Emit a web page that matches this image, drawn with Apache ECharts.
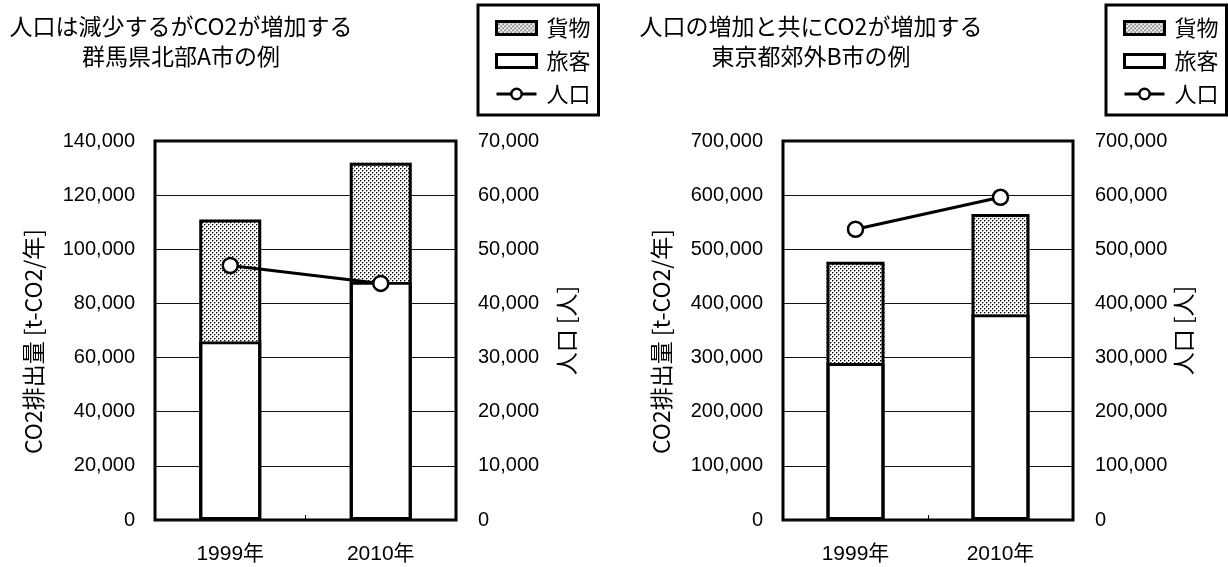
<!DOCTYPE html>
<html>
<head>
<meta charset="utf-8">
<script src="https://cdn.jsdelivr.net/npm/echarts@6/dist/echarts.min.js"></script>
<style>
  html, body { margin: 0; padding: 0; background: #fff; }
  #chart { width: 1228px; height: 567px; }
</style>
</head>
<body>
<div id="chart"></div>
<script>
// Categories and values for the two city panels
const years = ['1999年', '2010年'];

// City A (Gunma): CO2 [t-CO2/year] and population
const passengerA = [66000, 88000];
const freightA = [45000, 44000];
const populationA = [47000, 43700];

// City B (Tokyo suburbs)
const passengerB = [290000, 380000];
const freightB = [187000, 185000];
const populationB = [537000, 596000];

// Axis tick settings
const co2MaxA = 140000, co2StepA = 20000;
const popMaxA = 70000, popStepA = 10000;
const co2MaxB = 700000, co2StepB = 100000;
const popMaxB = 700000, popStepB = 100000;

const titleA = '人口は減少するがCO2が増加する\n群馬県北部A市の例';
const titleB = '人口の増加と共にCO2が増加する\n東京都郊外B市の例';

// Stippled fill for the freight segment
function stipple() {
  const c = document.createElement('canvas');
  c.width = 4; c.height = 4;
  const g = c.getContext('2d');
  g.fillStyle = '#fff';
  g.fillRect(0, 0, 4, 4);
  g.fillStyle = '#999';
  g.fillRect(1, 0, 1, 1);
  g.fillRect(0, 1, 1, 1);
  g.fillRect(3, 2, 1, 1);
  g.fillRect(2, 3, 1, 1);
  g.fillStyle = '#000';
  g.fillRect(0, 0, 1, 1);
  g.fillRect(2, 2, 1, 1);
  return { image: c, repeat: 'repeat' };
}
const dotFill = stipple();

const JP = '"Noto Sans CJK JP", sans-serif';
const NUM = '"Liberation Sans", "Noto Sans CJK JP", sans-serif';

const fmt = v => v.toLocaleString('en-US');
const sum = (a, b) => a.map((v, i) => v + b[i]);

function co2Axis(gridIndex, max, step) {
  return {
    type: 'value', gridIndex, min: 0, max, interval: step,
    name: 'CO2排出量 [t-CO2/年]', nameLocation: 'middle', nameRotate: 90, nameGap: 110,
    nameTextStyle: { fontFamily: JP, fontSize: 23, color: '#000', padding: [0, 22, 0, 0] },
    axisLine: { show: false }, axisTick: { show: false },
    axisLabel: { fontFamily: NUM, fontSize: 20, color: '#000', margin: 20, formatter: fmt },
    splitLine: { show: true, lineStyle: { color: '#111', width: 1 } }
  };
}
function popAxis(gridIndex, max, step) {
  return {
    type: 'value', gridIndex, position: 'right', min: 0, max, interval: step,
    name: '人口 [人]', nameLocation: 'middle', nameRotate: 90, nameGap: 99,
    nameTextStyle: { fontFamily: JP, fontSize: 23, color: '#000' },
    axisLine: { show: false }, axisTick: { show: false },
    axisLabel: { fontFamily: NUM, fontSize: 20, color: '#000', margin: 22, formatter: fmt },
    splitLine: { show: false }
  };
}
function catAxis(gridIndex) {
  return {
    type: 'category', gridIndex, data: years,
    axisLine: { show: false },
    axisTick: { show: true, inside: true, length: 5, lineStyle: { color: '#000', width: 1 } },
    axisLabel: { fontFamily: NUM, fontSize: 21, color: '#000', margin: 24 }
  };
}
// Stacked fills: passenger (outlined) at the bottom, freight on top
function barSeries(name, data, idx, fill, width, border) {
  return {
    name, type: 'bar', stack: 'co2-' + idx, data,
    xAxisIndex: idx, yAxisIndex: idx * 2, barWidth: width, barGap: '-100%',
    itemStyle: { color: fill, borderColor: '#000', borderWidth: border },
    z: 2
  };
}
// Outline of the whole stacked column (passenger + freight)
function totalOutline(data, idx, width) {
  return {
    name: '合計', type: 'bar', data,
    xAxisIndex: idx, yAxisIndex: idx * 2, barWidth: width, barGap: '-100%',
    itemStyle: { color: 'rgba(0,0,0,0)', borderColor: '#000', borderWidth: 3 },
    z: 3
  };
}
function lineSeries(data, idx) {
  return {
    name: '人口', type: 'line', data,
    xAxisIndex: idx, yAxisIndex: idx * 2 + 1,
    symbol: 'circle', symbolSize: 15, showSymbol: true,
    lineStyle: { color: '#000', width: 3 },
    itemStyle: { color: '#fff', borderColor: '#000', borderWidth: 2.5 },
    z: 5
  };
}
function legendAt(left) {
  return {
    left, top: 5, orient: 'vertical',
    backgroundColor: '#fff', borderColor: '#000', borderWidth: 3, borderRadius: 0,
    padding: [12, 8, 10, 17], itemGap: 11, itemWidth: 40, itemHeight: 13,
    textStyle: { fontFamily: JP, fontSize: 22, color: '#000', padding: [0, 0, 0, 5] },
    data: [
      { name: '貨物', icon: 'rect', itemStyle: { borderColor: '#000', borderWidth: 3 } },
      { name: '旅客', icon: 'rect', itemStyle: { borderColor: '#000', borderWidth: 3 } },
      { name: '人口', lineStyle: { color: '#000', width: 3 },
        itemStyle: { color: '#fff', borderColor: '#000', borderWidth: 2.5 } }
    ],
    selectedMode: false
  };
}

const chart = echarts.init(document.getElementById('chart'), null, { renderer: 'canvas' });
chart.setOption({
  animation: false,
  backgroundColor: '#fff',
  title: [
    { text: titleA, left: 176, top: 6, textAlign: 'center',
      textStyle: { fontFamily: JP, fontSize: 23, fontWeight: 'normal', color: '#000', lineHeight: 30, align: 'center' } },
    { text: titleB, left: 806, top: 6, textAlign: 'center',
      textStyle: { fontFamily: JP, fontSize: 23, fontWeight: 'normal', color: '#000', lineHeight: 30, align: 'center' } }
  ],
  legend: [legendAt(478), legendAt(1106)],
  grid: [
    { left: 155, top: 141, width: 301, height: 379, show: true, borderColor: '#000', borderWidth: 3, backgroundColor: 'transparent', containLabel: false },
    { left: 783, top: 141, width: 290, height: 379, show: true, borderColor: '#000', borderWidth: 3, backgroundColor: 'transparent', containLabel: false }
  ],
  xAxis: [catAxis(0), catAxis(1)],
  yAxis: [co2Axis(0, co2MaxA, co2StepA), popAxis(0, popMaxA, popStepA),
          co2Axis(1, co2MaxB, co2StepB), popAxis(1, popMaxB, popStepB)],
  series: [
    barSeries('旅客', passengerA, 0, '#fff', 62, 3),
    barSeries('貨物', freightA, 0, dotFill, 62, 0),
    totalOutline(sum(passengerA, freightA), 0, 62),
    lineSeries(populationA, 0),
    barSeries('旅客', passengerB, 1, '#fff', 58, 3),
    barSeries('貨物', freightB, 1, dotFill, 58, 0),
    totalOutline(sum(passengerB, freightB), 1, 58),
    lineSeries(populationB, 1)
  ]
});
</script>
</body>
</html>
